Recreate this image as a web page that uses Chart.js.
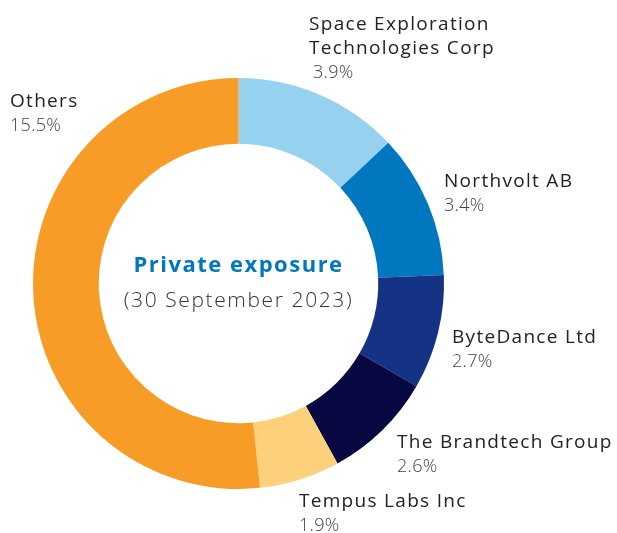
<!DOCTYPE html>
<html>
<head>
<meta charset="utf-8">
<script src="https://cdn.jsdelivr.net/npm/chart.js@4"></script>
<style>
  html, body { margin: 0; padding: 0; background: #fff; }
  #wrap { width: 617px; height: 533px; position: relative; }
</style>
</head>
<body>
<div id="wrap"><canvas id="chart" width="617" height="533"></canvas></div>
<script>
// data
const names   = ["Space Exploration\nTechnologies Corp", "Northvolt AB", "ByteDance Ltd",
                 "The Brandtech Group", "Tempus Labs Inc", "Others"];
const values  = [3.9, 3.4, 2.7, 2.6, 1.9, 15.5];
const colours = ["#97d1f0", "#0077be", "#153384", "#070741", "#fdd07b", "#f79d27"];

// label anchors (left edge x, baseline of first line)
const labelPos = [
  [309, 30], [444, 187], [452, 343], [397, 448], [299, 507], [10, 107],
];

const FONT = "'Open Sans', sans-serif";

const labelsPlugin = {
  id: "outerLabels",
  afterDraw(chart) {
    const ctx = chart.ctx;
    ctx.save();
    ctx.textAlign = "left";
    ctx.textBaseline = "alphabetic";
    names.forEach((n, i) => {
      const [x, y] = labelPos[i];
      const lines = n.split("\n");
      ctx.fillStyle = "#222";
      ctx.font = "19px " + FONT;
      ctx.letterSpacing = "1.3px";
      lines.forEach((l, j) => ctx.fillText(l, x, y + j * 24));
      ctx.fillStyle = "#444";
      ctx.font = "300 18px " + FONT;
      ctx.letterSpacing = "0.3px";
      const px = i === 0 ? x + 4 : x;
      ctx.fillText(values[i].toFixed(1) + "%", px, y + lines.length * 24);
    });

    // centre title
    const a = chart.getDatasetMeta(0).data[0];
    ctx.textAlign = "center";
    ctx.fillStyle = "#0077be";
    ctx.font = "bold 22px " + FONT;
    ctx.letterSpacing = "1.5px";
    ctx.fillText("Private exposure", a.x, a.y - 12);
    ctx.fillStyle = "#333";
    ctx.font = "300 21px " + FONT;
    ctx.letterSpacing = "1.6px";
    ctx.fillText("(30 September 2023)", a.x, a.y + 23);
    ctx.restore();
  },
};

new Chart(document.getElementById("chart"), {
  type: "doughnut",
  data: {
    labels: names,
    datasets: [{
      data: values,
      backgroundColor: colours,
      borderWidth: 0,
    }],
  },
  options: {
    responsive: false,
    animation: false,
    cutout: "68%",
    layout: { padding: { left: 33, top: 78, right: 173, bottom: 44 } },
    plugins: {
      legend: { display: false },
      tooltip: { enabled: false },
    },
  },
  plugins: [labelsPlugin],
});
</script>
</body>
</html>
